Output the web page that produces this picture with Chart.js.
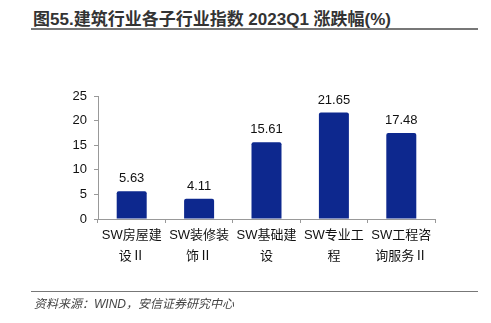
<!DOCTYPE html>
<html>
<head>
<meta charset="utf-8">
<script src="https://cdn.jsdelivr.net/npm/chart.js@4"></script>
<style>
  html, body { margin: 0; padding: 0; background: #fff; }
  body { width: 491px; height: 323px; position: relative; overflow: hidden; font-family: "Liberation Sans", "Noto Sans CJK SC", sans-serif; }
  #title { position: absolute; left: 33px; top: 5px; font-size: 17px; font-weight: bold; color: #333; white-space: nowrap; }
  .rule { position: absolute; left: 31px; width: 447px; height: 2px; background: #777; }
  #source { position: absolute; left: 34px; top: 294px; font-size: 12px; font-style: italic; color: #444; white-space: nowrap; }
  #wrap { position: absolute; left: 0; top: 0; width: 491px; height: 323px; }
</style>
</head>
<body>
<div id="title">图55.建筑行业各子行业指数 2023Q1 涨跌幅(%)</div>
<div class="rule" style="top:28px"></div>
<div id="wrap"><canvas id="chart"></canvas></div>
<div class="rule" style="top:291px; height:1px"></div>
<div id="source">资料来源：WIND，安信证券研究中心</div>
<script>
const categories = [
  ["SW房屋建", "设Ⅱ"],
  ["SW装修装", "饰Ⅱ"],
  ["SW基础建", "设"],
  ["SW专业工", "程"],
  ["SW工程咨", "询服务Ⅱ"],
];
const changes = [5.63, 4.11, 15.61, 21.65, 17.48];
const yTicks = [0, 5, 10, 15, 20, 25];

const axisColor = "#999";
const font = { family: "'Liberation Sans', 'Noto Sans CJK SC', sans-serif", size: 13 };

// writes each value above its bar
const valueLabels = {
  id: "valueLabels",
  afterDatasetsDraw(chart) {
    const ctx = chart.ctx;
    const meta = chart.getDatasetMeta(0);
    ctx.save();
    ctx.font = "13px 'Liberation Sans', sans-serif";
    ctx.fillStyle = "#111";
    ctx.textAlign = "center";
    ctx.textBaseline = "bottom";
    meta.data.forEach((bar, i) => {
      ctx.fillText(changes[i].toFixed(2), bar.x, bar.y - 6);
    });
    ctx.restore();
  },
};

new Chart(document.getElementById("chart"), {
  type: "bar",
  data: {
    labels: categories,
    datasets: [
      {
        data: changes,
        backgroundColor: "#0d288e",
        borderRadius: 2,
        categoryPercentage: 1,
        barPercentage: 0.445,
      },
    ],
  },
  options: {
    responsive: true,
    maintainAspectRatio: false,
    animation: false,
    layout: { padding: { left: 0, right: 56, top: 96, bottom: 0 } },
    plugins: {
      legend: { display: false },
      tooltip: { enabled: false },
    },
    scales: {
      x: {
        grid: { offset: true, drawOnChartArea: false, color: axisColor, tickLength: 4 },
        border: { color: axisColor },
        ticks: { font: { ...font, lineHeight: 1.6 }, color: "#111", padding: 2, maxRotation: 0 },
        afterFit: (scale) => { scale.height = 104; },
      },
      y: {
        min: 0,
        max: 25,
        afterBuildTicks: (scale) => { scale.ticks = yTicks.map((v) => ({ value: v })); },
        grid: { drawOnChartArea: false, color: axisColor, tickLength: 4 },
        border: { color: axisColor },
        ticks: { font, color: "#111", padding: 7 },
        afterFit: (scale) => { scale.width = 98; },
      },
    },
  },
  plugins: [valueLabels],
});
</script>
</body>
</html>
